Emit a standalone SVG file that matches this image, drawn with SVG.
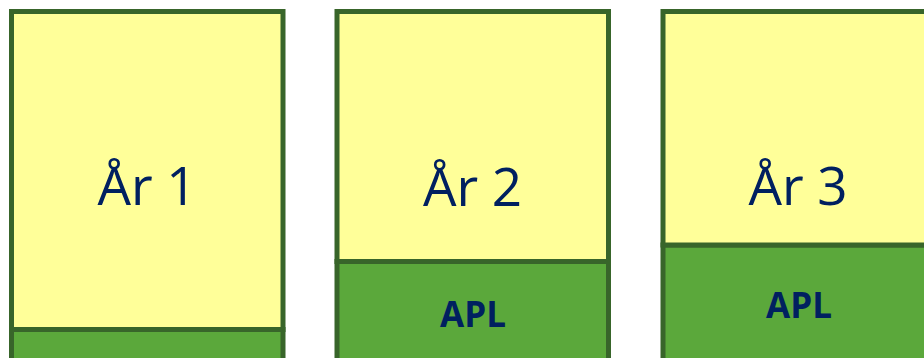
<svg xmlns="http://www.w3.org/2000/svg" width="924" height="358" viewBox="0 0 924 358">
<style>
.yr{fill:#FFFF99;stroke:#38652A;stroke-width:5}
.apl{fill:#5BA83B;stroke:#38652A;stroke-width:5}
.t{font-family:"Open Sans","Liberation Sans",Arial,sans-serif;font-size:53px;fill:#002060;text-anchor:middle}
.a{font-family:"Open Sans","Liberation Sans",Arial,sans-serif;font-size:35px;font-weight:bold;fill:#002060;text-anchor:middle}
</style>
<rect width="924" height="358" fill="#ffffff"/>
<g id="year1">
<rect class="apl" x="11.5" y="329.5" width="271.5" height="40"/>
<rect class="yr" x="11.5" y="11.5" width="271.5" height="318"/>
<text class="t" x="147" y="205">År 1</text>
</g>
<g id="year2">
<rect class="apl" x="337" y="261.5" width="271.5" height="110"/>
<rect class="yr" x="337" y="11.5" width="271.5" height="250"/>
<text class="t" x="472.5" y="206">År 2</text>
<text class="a" x="473" y="327">APL</text>
</g>
<g id="year3">
<rect class="apl" x="663" y="245" width="271.5" height="125"/>
<rect class="yr" x="663" y="11.5" width="271.5" height="233.5"/>
<text class="t" x="798" y="205">År 3</text>
<text class="a" x="799" y="318">APL</text>
</g>
<g id="connectors"></g>
</svg>
